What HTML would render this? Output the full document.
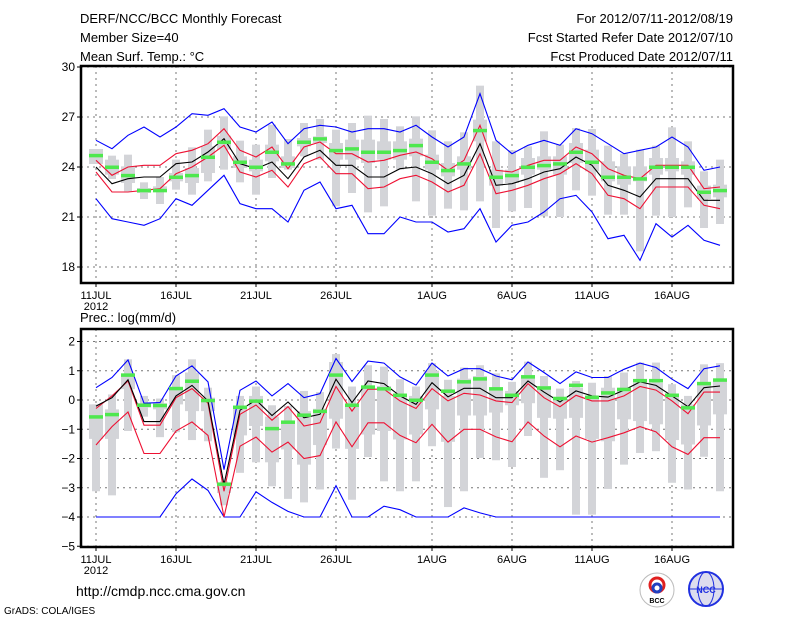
<!DOCTYPE html>
<html><head><meta charset="utf-8"><style>
body{margin:0;background:#fff;width:800px;height:618px;overflow:hidden}
svg{display:block;font-family:"Liberation Sans",sans-serif}
</style></head><body>
<svg id="c" width="800" height="618" viewBox="0 0 800 618">
<g font-size="13" fill="#000">
<text x="80" y="23">DERF/NCC/BCC Monthly Forecast</text>
<text x="80" y="42">Member Size=40</text>
<text x="80" y="61">Mean Surf. Temp.: °C</text>
<text x="733" y="23" text-anchor="end">For 2012/07/11-2012/08/19</text>
<text x="733" y="42" text-anchor="end">Fcst Started Refer Date 2012/07/10</text>
<text x="733" y="61" text-anchor="end">Fcst Produced Date 2012/07/11</text>
<text x="80" y="322">Prec.: log(mm/d)</text>
<text x="76" y="596" font-size="14">http://cmdp.ncc.cma.gov.cn</text>
<text x="4" y="614" font-size="10">GrADS: COLA/IGES</text>
</g>
<g>
<circle cx="657" cy="590" r="17" fill="#fff" stroke="#bbb"/>
<circle cx="657" cy="585" r="7" fill="none" stroke="#e02020" stroke-width="3"/>
<circle cx="657" cy="588" r="4" fill="none" stroke="#2040c0" stroke-width="3"/>
<text x="657" y="603" font-size="7" text-anchor="middle" font-weight="bold">BCC</text>
</g>
<g>
<circle cx="706" cy="589" r="17" fill="#dde" stroke="#2030e0" stroke-width="2"/>
<ellipse cx="706" cy="589" rx="8" ry="17" fill="none" stroke="#2030e0"/>
<line x1="689" y1="589" x2="723" y2="589" stroke="#2030e0"/>
<text x="706" y="593" font-size="9" text-anchor="middle" fill="#2030e0" font-weight="bold">NCC</text>
</g>
<g id="plots"></g>
</svg>
<script>
const days=[0,1,2,3,4,5,6,7,8,9,10,11,12,13,14,15,16,17,18,19,20,21,22,23,24,25,26,27,28,29,30,31,32,33,34,35,36,37,38,39];
const dateTicks=[0,5,10,15,21,26,31,36];
const dateLabels=["11JUL","16JUL","21JUL","26JUL","1AUG","6AUG","11AUG","16AUG"];
const tTicks=[18,21,24,27,30];
const pTicks=[-5,-4,-3,-2,-1,0,1,2];
// temperature
const tBlueHi=[25.6,25.1,25.9,26.4,25.8,26.4,27.2,27.1,27.5,26.4,26.1,26.7,25.4,26.3,26.5,26.4,26.1,26.3,26.3,26.1,26.5,25.8,25.2,25.8,28.4,25.6,24.8,25.3,25.6,25.3,26.3,26.0,25.4,24.8,25.0,25.2,25.8,25.2,23.8,24.0];
const tRedHi=[24.4,23.5,24.0,24.1,24.1,24.8,25.0,25.4,26.3,25.0,24.6,25.2,23.9,25.2,25.5,24.8,24.8,24.3,24.4,24.7,24.9,24.5,23.8,24.4,26.5,23.8,23.7,24.1,24.4,24.4,25.2,24.8,23.9,23.5,23.3,24.1,24.1,24.1,22.7,22.8];
const tMean=[24.0,23.0,23.3,23.4,23.4,24.2,24.3,24.9,25.7,24.2,23.9,24.3,23.3,24.6,25.0,24.1,24.1,23.4,23.4,23.9,24.0,23.6,23.0,23.5,25.4,22.9,23.0,23.3,23.7,23.9,24.6,24.1,22.9,22.6,22.2,23.3,23.3,23.3,22.0,22.0];
const tRedLo=[23.7,22.5,22.5,22.6,22.7,23.6,24.0,24.6,25.3,23.7,23.4,23.8,22.8,24.2,24.6,23.6,23.6,22.7,22.8,23.3,23.5,23.1,22.5,22.9,24.8,22.4,22.6,22.9,23.3,23.6,24.2,23.6,22.3,22.1,21.5,22.8,22.8,22.8,21.7,21.5];
const tBlueLo=[22.1,20.9,20.7,20.5,20.9,22.1,21.7,22.6,23.5,21.8,21.5,21.5,20.7,22.6,23.1,21.5,21.7,20.0,20.0,21.0,20.7,20.7,20.1,20.3,21.5,19.5,20.5,20.7,21.3,22.1,22.3,21.3,19.7,19.9,18.4,20.6,19.8,20.5,19.6,19.3];
const tObs=[24.7,24.0,23.5,22.6,22.6,23.4,23.5,24.6,25.5,24.3,24.0,24.9,24.2,25.5,25.7,25.0,25.1,24.9,24.9,25.0,25.3,24.3,23.8,24.2,26.2,23.4,23.5,24.0,24.1,24.2,24.9,24.3,23.4,23.4,23.3,24.0,24.0,24.0,22.5,22.6];
const tMax=[25.08,24.68,24.74,23.08,23.4,24.44,25.18,26.24,27.04,25.58,25.34,26.54,25.68,26.64,26.88,26.24,26.64,27.08,26.88,26.44,27.04,26.2,25.54,26.08,28.88,25.54,25.0,25.24,26.14,25.34,26.34,26.28,25.28,24.8,25.04,25.28,26.38,25.54,23.74,24.44];
const tMin=[24.18,23.28,22.54,22.08,21.78,22.64,22.34,23.14,23.84,23.08,22.34,23.34,23.84,24.64,24.44,21.64,22.44,21.28,21.64,23.84,21.94,21.08,21.5,21.4,21.94,20.34,21.34,21.54,21.04,21.0,22.6,22.28,21.14,21.14,18.94,21.08,21.0,21.58,20.34,20.58];
const tQ3=[25.08,24.44,24.04,22.74,22.84,23.64,23.94,25.24,25.88,24.64,24.44,25.34,24.64,25.74,25.84,25.44,25.64,25.64,25.54,25.54,25.7,24.74,24.24,24.64,26.84,23.84,23.84,24.54,24.64,24.64,25.44,25.04,24.34,24.04,24.04,24.54,24.54,24.34,22.88,22.94];
const tQ1=[24.18,23.54,23.04,22.44,22.54,23.14,23.04,23.64,25.04,23.94,23.74,24.34,23.94,25.24,25.44,24.44,24.44,24.24,24.44,24.44,24.64,23.84,23.44,23.84,25.54,22.88,23.04,23.54,23.84,23.54,24.24,23.74,23.14,22.94,23.14,23.54,23.74,23.54,22.08,22.18];
// precipitation
const pBlueHi=[0.42,0.77,1.37,-0.11,-0.09,0.82,1.17,0.62,-2.38,0.33,0.65,0.14,0.56,0.08,0.22,1.42,0.63,1.33,1.26,0.79,0.51,1.26,0.82,1.07,1.07,0.82,0.69,1.3,0.94,0.56,0.96,0.77,0.77,1.05,1.26,1.11,0.71,0.39,1.07,1.17];
const pMean=[-0.21,0.08,0.69,-0.74,-0.74,0.14,0.5,-0.03,-2.89,-0.35,0,-0.53,-0.07,-0.61,-0.49,0.71,-0.09,0.65,0.56,0.14,-0.15,0.59,0.11,0.4,0.4,0.08,0.08,0.65,0.27,-0.07,0.31,0.14,0.1,0.34,0.62,0.5,0.14,-0.23,0.42,0.48];
const pRedHi=[-0.29,0.14,0.65,-0.86,-0.86,0.08,0.39,-0.11,-3.12,-0.49,-0.17,-0.69,-0.23,-0.89,-0.78,0.46,-0.38,0.37,0.37,-0.03,-0.29,0.39,-0.03,0.23,0.17,-0.03,-0.09,0.56,0.08,-0.23,0.16,-0.03,-0.03,0.14,0.46,0.34,-0.03,-0.47,0.27,0.27];
const pRedLo=[-1.54,-0.91,-0.41,-1.83,-1.83,-1.06,-0.75,-1.21,-4,-1.58,-1.27,-1.78,-1.44,-2.0,-1.9,-0.75,-1.6,-0.78,-0.78,-1.21,-1.46,-0.83,-1.44,-1.0,-1.0,-1.26,-1.43,-0.75,-1.23,-1.6,-1.23,-1.44,-1.29,-1.12,-0.91,-1.09,-1.6,-1.86,-1.29,-1.29];
const pBlueLo=[-4,-4,-4,-4,-4,-3.21,-2.7,-3.09,-4,-4,-3.14,-3.5,-3.81,-4,-4,-2.93,-4,-4,-3.63,-3.75,-4,-4,-4,-3.69,-3.86,-4,-4,-4,-4,-4,-4,-4,-4,-4,-4,-4,-4,-4,-4,-4];
const pObs=[-0.57,-0.49,0.86,-0.17,-0.18,0.4,0.65,-0.01,-2.87,-0.24,-0.03,-0.97,-0.75,-0.51,-0.38,0.86,-0.17,0.45,0.39,0.17,0,0.86,0.31,0.63,0.73,0.39,0.17,0.8,0.42,0.06,0.51,0.1,0.25,0.37,0.67,0.67,0.17,-0.26,0.57,0.69];
const pMax=[-0.15,0.19,1.39,0.14,0.05,0.85,1.39,0.42,-2.78,0.14,0.46,-0.18,-0.2,0.31,0.27,1.57,0.46,1.19,1.14,0.71,0.46,1.26,0.69,1.11,1.19,0.91,0.62,1.31,0.82,0.39,0.65,0.59,0.82,0.94,1.28,1.28,0.54,0.14,1.22,1.26];
const pMin=[-3.12,-3.26,-1.06,-0.57,-1.27,-1.1,-1.37,-1.41,-3.6,-2.49,-2.13,-2.95,-3.38,-3.5,-3.06,-1.66,-3.41,-1.95,-2.78,-3.12,-2.78,-1.58,-3.66,-3.12,-1.98,-2.06,-2.29,-1.23,-2.66,-2.4,-3.92,-3.92,-3.04,-2.21,-1.81,-1.75,-2.83,-3.06,-1.94,-3.12];
const pQ3=[-0.15,-0.32,0.86,-0.11,-0.11,0.42,0.94,0.08,-2.89,-0.21,0.14,-0.57,-0.72,-0.38,-0.3,1.3,-0.21,0.42,0.48,0.19,0.14,1.0,0.14,0.73,0.82,0.42,0.31,0.85,0.48,0.02,0.42,0.14,0.42,0.31,0.59,0.59,0.14,-0.15,0.54,0.71];
const pQ1=[-1.33,-1.33,0.37,-0.26,-0.32,-0.15,-0.38,-0.38,-3.18,-1.21,-0.89,-2.13,-1.69,-2.21,-1.54,-0.64,-1.67,-1.18,-1.06,-1.35,-1.18,-0.32,-1.43,-0.53,-0.53,-0.43,-0.18,-0.11,-0.61,-0.64,-0.61,-1.33,-1.41,-0.66,-0.72,-0.83,-1.37,-1.52,-0.87,-0.49];

const NS='http://www.w3.org/2000/svg';
const root=document.getElementById('plots');
function mk(tag,attrs,parent){const e=document.createElementNS(NS,tag);for(const k in attrs)e.setAttribute(k,attrs[k]);(parent||root).appendChild(e);return e;}
const X0=81,X1=733;
const xs=d=>96+16*d;

function panel(name,top,bot,yf,ticks,series){
  const g=mk('g',{});
  
  
  ticks.forEach(t=>{const y=yf(t);
    const l=mk('line',{x1:X0,x2:X1,y1:y,y2:y,stroke:'#777','stroke-dasharray':'2,4','stroke-width':1},g);
    
    
    mk('line',{x1:X0-4,x2:X0,y1:y,y2:y,stroke:'#000'},g);
    const tx=mk('text',{x:X0-6,y:y+4,'text-anchor':'end','font-size':12},g);
    tx.textContent=String(t).replace('-','\u2212');
    
    
  });
  dateTicks.forEach((d,i)=>{const x=xs(d);
    const l=mk('line',{x1:x,x2:x,y1:top,y2:bot,stroke:'#777','stroke-dasharray':'2,4'},g);
    
    
    mk('line',{x1:x,x2:x,y1:bot,y2:bot+4,stroke:'#000'},g);
    const tx=mk('text',{x:x,y:bot+16,'text-anchor':'middle','font-size':11},g);
    tx.textContent=dateLabels[i];
    
    
  });
  const yr=mk('text',{x:xs(0),y:bot+27,'text-anchor':'middle','font-size':11},g);
  yr.textContent='2012';
  
  
  const [bHi,rHi,mn,rLo,bLo,obs,mx,mi,q3,q1]=series;
  days.forEach(d=>{const x=xs(d);
    const r1=mk('rect',{x:x-4,y:yf(mx[d]),width:8,height:Math.max(1,yf(mi[d])-yf(mx[d])),fill:'#d3d4d8'},g);
    
    
    const r2=mk('rect',{x:x-7,y:yf(q3[d]),width:14,height:Math.max(1,yf(q1[d])-yf(q3[d])),fill:'#d3d4d8'},g);
    
    
  });
  const lines=[[bHi,'#0000ff','blue-upper-line'],[bLo,'#0000ff','blue-lower-line'],[rHi,'#ee1133','red-upper-line'],[rLo,'#ee1133','red-lower-line'],[mn,'#000','ensemble-mean-line']];
  lines.forEach(([arr,c,n])=>{
    const p=mk('polyline',{points:days.map(d=>xs(d)+','+yf(arr[d]).toFixed(1)).join(' '),fill:'none',stroke:c,'stroke-width':1.1},g);
    
    
  });
  days.forEach(d=>{
    const r=mk('rect',{x:xs(d)-7,y:yf(obs[d])-1.5,width:14,height:3.5,fill:'#4ee84e'},g);
    
    
  });
  const f=mk('rect',{x:X0,y:top,width:X1-X0,height:bot-top,fill:'none',stroke:'#000','stroke-width':2.5},g);
  
  
}
const yT=v=>67+(30-v)*16.667;
const yB=v=>400-v*29.25;
panel('temperature-panel',66,283,yT,tTicks,[tBlueHi,tRedHi,tMean,tRedLo,tBlueLo,tObs,tMax,tMin,tQ3,tQ1]);
panel('precipitation-panel',329,547,yB,pTicks,[pBlueHi,pRedHi,pMean,pRedLo,pBlueLo,pObs,pMax,pMin,pQ3,pQ1]);
</script>
</body></html>
